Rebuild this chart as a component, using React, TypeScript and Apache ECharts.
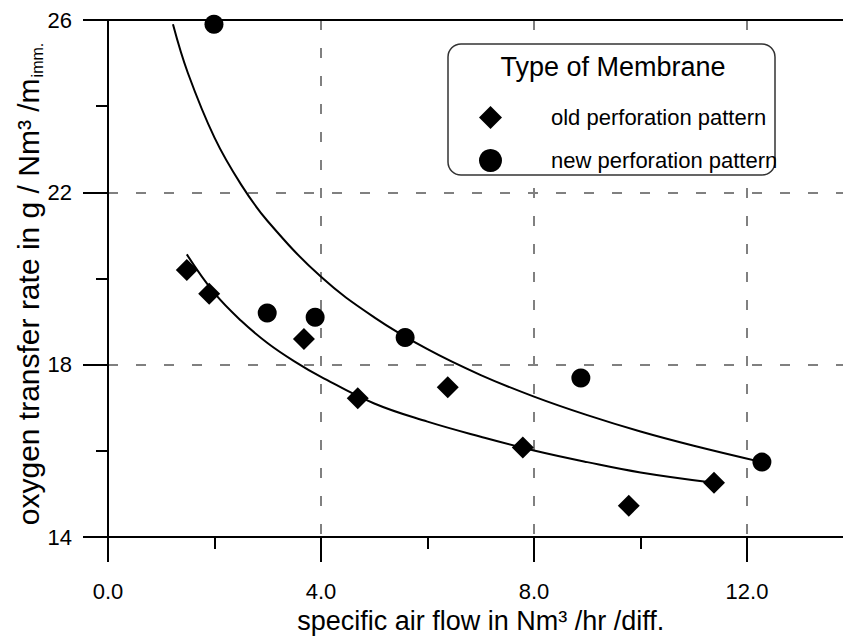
import React, { useEffect, useRef } from "react";
import * as echarts from "echarts";

// measured points: [specific air flow, oxygen transfer rate]
const oldPattern: [number, number][] = [
  [1.48, 20.2],
  [1.9, 19.65],
  [3.68, 18.6],
  [4.69, 17.22],
  [6.38, 17.48],
  [7.79, 16.08],
  [9.78, 14.73],
  [11.38, 15.26],
];
const newPattern: [number, number][] = [
  [1.99, 25.9],
  [2.99, 19.2],
  [3.89, 19.1],
  [5.58, 18.63],
  [8.88, 17.69],
  [12.28, 15.74],
];
// fitted curves
const oldFit: [number, number][] = [
  [1.48, 20.56],
  [2.0, 19.66],
  [2.5, 19.02],
  [3.0, 18.5],
  [3.5, 18.08],
  [4.0, 17.72],
  [5.0, 17.1],
  [6.0, 16.68],
  [7.0, 16.33],
  [8.0, 16.01],
  [9.0, 15.74],
  [10.0, 15.5],
  [11.38, 15.26],
];
const newFit: [number, number][] = [
  [1.22, 25.9],
  [1.5, 24.77],
  [2.0, 23.27],
  [2.5, 22.18],
  [3.0, 21.33],
  [4.0, 20.04],
  [5.0, 19.1],
  [6.0, 18.36],
  [7.0, 17.76],
  [8.0, 17.26],
  [9.0, 16.83],
  [10.0, 16.45],
  [11.0, 16.12],
  [12.28, 15.74],
];

const seriesNames = ["old perforation pattern", "new perforation pattern"];
const legendTitle = "Type of Membrane";
const xAxisTitle = "specific air flow in Nm³ /hr /diff.";
const yAxisTitle = "oxygen transfer rate in g / Nm³ /m";
const yAxisTitleSub = "imm.";
const xRange = [0, 14];
const yRange = [14, 26];
const xMajor = 4;
const xMinor = 2;
const yMajor = 4;

const FONT = "'Liberation Sans', Arial, sans-serif";

export default function App() {
  const ref = useRef<HTMLDivElement>(null);
  useEffect(() => {
    document.body.style.margin = "0";
    const chart = echarts.init(ref.current!, null, { renderer: "svg" });
    const black = "#000";
    const gridGray = "#808080";
    chart.setOption({
      animation: false,
      backgroundColor: "#fff",
      grid: { left: 108, top: 20, right: 6.5, bottom: 94, containLabel: false },
      xAxis: [
        {
          type: "value",
          min: xRange[0],
          max: xRange[1],
          interval: xMajor,
          position: "bottom",
          name: xAxisTitle,
          nameLocation: "middle",
          nameGap: 61,
          nameTextStyle: { fontSize: 27, color: black, fontFamily: FONT },
          axisLine: { show: true, onZero: false, lineStyle: { color: black, width: 2 } },
          axisTick: { show: true, length: 25, lineStyle: { color: black, width: 2 } },
          axisLabel: {
            margin: 43,
            fontSize: 22,
            color: black,
            fontFamily: FONT,
            formatter: (v: number) => (v > 12.5 ? "" : v.toFixed(1)),
          },
          splitLine: {
            show: true,
            lineStyle: {
              type: [10, 18],
              width: 2,
              color: ["transparent", gridGray, gridGray, gridGray, "transparent"],
            },
          },
        },
        {
          type: "value",
          min: xRange[0],
          max: xRange[1],
          interval: xMinor,
          position: "bottom",
          axisLine: { show: false },
          axisTick: { show: true, length: 12, lineStyle: { color: black, width: 2 } },
          axisLabel: { show: false },
          splitLine: { show: false },
        },
        {
          type: "value",
          min: xRange[0],
          max: xRange[1],
          position: "top",
          axisLine: { show: true, onZero: false, lineStyle: { color: black, width: 2 } },
          axisTick: { show: false },
          axisLabel: { show: false },
          splitLine: { show: false },
        },
      ],
      yAxis: [
        {
          type: "value",
          min: yRange[0],
          max: yRange[1],
          interval: yMajor,
          axisLine: { show: true, onZero: false, lineStyle: { color: black, width: 2 } },
          axisTick: { show: true, length: 25, lineStyle: { color: black, width: 2 } },
          minorTick: { show: true, splitNumber: 2, length: 12, lineStyle: { color: black, width: 2 } },
          axisLabel: { margin: 36, fontSize: 22, color: black, fontFamily: FONT },
          splitLine: {
            show: true,
            lineStyle: {
              type: [10, 18],
              width: 2,
              color: ["transparent", gridGray, gridGray, "transparent"],
            },
          },
        },
      ],
      legend: {
        show: true,
        data: seriesNames,
        orient: "vertical",
        left: 474,
        top: 101,
        itemWidth: 23,
        itemHeight: 23,
        itemGap: 20,
        selectedMode: false,
        z: 10,
        itemStyle: { opacity: 1 },
        textStyle: { fontSize: 22, color: black, fontFamily: FONT, padding: [0, 0, 0, 44] },
      },
      graphic: [
        {
          type: "rect",
          z: 5,
          shape: { x: 448, y: 44, width: 327, height: 131, r: 13 },
          style: { fill: "#fff", stroke: "#333", lineWidth: 1.5 },
        },
        {
          type: "text",
          z: 6,
          x: 613,
          y: 67,
          style: {
            text: legendTitle,
            fontSize: 27,
            fontFamily: FONT,
            fill: black,
            align: "center",
            verticalAlign: "middle",
          },
        },
        {
          type: "text",
          z: 6,
          x: 28,
          y: 284,
          rotation: Math.PI / 2,
          style: {
            text: "{a|" + yAxisTitle + "}{b|" + yAxisTitleSub + "}",
            fill: black,
            align: "center",
            verticalAlign: "middle",
            rich: {
              a: { fontSize: 30, lineHeight: 30, fontFamily: FONT, fill: black, verticalAlign: "top" },
              b: {
                fontSize: 16,
                lineHeight: 16,
                fontFamily: FONT,
                fill: black,
                verticalAlign: "top",
                padding: [16, 0, 0, 1],
              },
            },
          },
        },
      ],
      series: [
        {
          type: "line",
          name: "fit old",
          data: oldFit,
          smooth: 0.4,
          symbol: "none",
          lineStyle: { color: black, width: 2 },
          z: 2,
        },
        {
          type: "line",
          name: "fit new",
          data: newFit,
          smooth: 0.4,
          symbol: "none",
          lineStyle: { color: black, width: 2 },
          z: 2,
        },
        {
          type: "scatter",
          name: seriesNames[0],
          data: oldPattern,
          symbol: "diamond",
          symbolSize: 22,
          itemStyle: { color: black, opacity: 1 },
          z: 3,
        },
        {
          type: "scatter",
          name: seriesNames[1],
          data: newPattern,
          symbol: "circle",
          symbolSize: 19,
          itemStyle: { color: black, opacity: 1 },
          z: 3,
        },
      ],
    });
    return () => chart.dispose();
  }, []);
  return (
    <div style={{ width: 843, height: 639, overflow: "hidden", position: "relative" }}>
      <div ref={ref} style={{ width: 860, height: 639 }} />
    </div>
  );
}
